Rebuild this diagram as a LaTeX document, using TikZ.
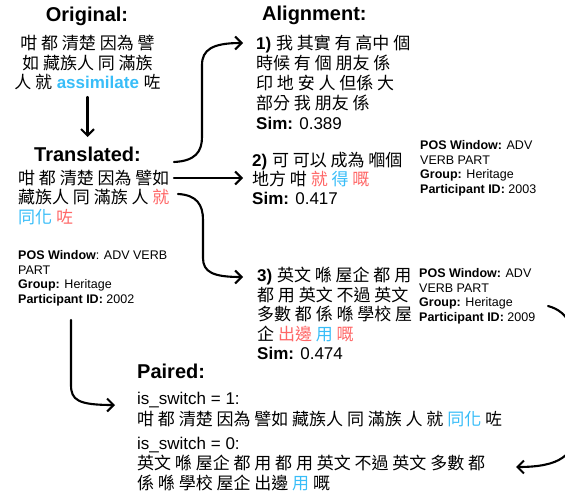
\documentclass[tikz,border=0pt]{standalone}
\usepackage{fontspec}
\setmainfont{Liberation Sans}
\newfontfamily\cjkfont{Noto Sans CJK TC}
\usetikzlibrary{arrows.meta}
\definecolor{hlred}{RGB}{255,102,102}
\definecolor{hlblue}{RGB}{56,189,248}
\newcommand{\zh}[1]{{\cjkfont #1}}
\newcommand{\rd}[1]{\textcolor{hlred}{#1}}
\newcommand{\bl}[1]{\textcolor{hlblue}{#1}}
\begin{document}
\begin{tikzpicture}[x=1pt,y=-1pt,
  hdr/.style={font=\fontsize{20}{24}\selectfont\bfseries, inner sep=0pt},
  body/.style={font=\fontsize{17}{19.5}\selectfont, inner sep=0pt, align=left, anchor=base west},
  posinfo/.style={font=\fontsize{12.5}{14.6}\selectfont, inner sep=0pt, align=left, anchor=base west},
  link/.style={line width=2.1pt, line cap=round, -{Straight Barb[length=6.5pt,width=13pt]}}]
\useasboundingbox (0,0) rectangle (565,495);
\clip (0,0) rectangle (565,495);

% left column (base anchors sit on the last line)
\node[hdr, anchor=base] (orighdr) at (87,22) {Original:};
\node[body, align=center, anchor=base] (orig) at (87.5,88.5)
  {\zh{咁 都 清楚 因為 譬}\\\zh{如 藏族人 同 滿族}\\\zh{人 就} \textbf{\bl{assimilate}} \zh{咗}};
\node[hdr, anchor=base] (transhdr) at (87.5,161) {Translated:};
\node[body] (trans) at (18,223)
  {\zh{咁 都 清楚 因為 譬如}\\\zh{藏族人 同 滿族 人 \rd{就}}\\\zh{\bl{同化} \rd{咗}}};
\node[posinfo] (pos1) at (18,303.3)
  {\textbf{POS Window}: ADV VERB\\PART\\\textbf{Group:} Heritage\\\textbf{Participant ID:} 2002};

% alignment column
\node[hdr, anchor=base west] (alhdr) at (262,21) {Alignment:};
\node[body, font=\fontsize{17}{20}\selectfont] (al1) at (256,129.5)
  {\textbf{1)} \zh{我 其實 有 高中 個}\\\zh{時候 有 個 朋友 係}\\\zh{印 地 安 人 但係 大}\\\zh{部分 我 朋友 係}\\\textbf{Sim:} 0.389};
\node[body, font=\fontsize{17}{19}\selectfont] (al2) at (252,204)
  {\textbf{2)} \zh{可 可以 成為 嗰個}\\\zh{地方 咁 \rd{就} \bl{得} \rd{嘅}}\\\textbf{Sim:} 0.417};
\node[posinfo] (pos2) at (420,193.3)
  {\textbf{POS Window:} ADV\\VERB PART\\\textbf{Group:} Heritage\\\textbf{Participant ID:} 2003};
\node[body] (al3) at (257,359.5)
  {\textbf{3)} \zh{英文 喺 屋企 都 用}\\\zh{都 用 英文 不過 英文}\\\zh{多數 都 係 喺 學校 屋}\\\zh{企 \rd{出邊} \bl{用} \rd{嘅}}\\\textbf{Sim:} 0.474};
\node[posinfo] (pos3) at (419,321.3)
  {\textbf{POS Window:} ADV\\VERB PART\\\textbf{Group:} Heritage\\\textbf{Participant ID:} 2009};

% paired
\node[hdr, anchor=base west] (pairhdr) at (137,378) {Paired:};
\node[body, font=\fontsize{17}{21.5}\selectfont] (pair1) at (137,425.5)
  {is\_switch = 1:\\\zh{咁 都 清楚 因為 譬如 藏族人 同 滿族 人 就 \bl{同化} 咗}};
\node[body, font=\fontsize{17}{20}\selectfont] (pair2) at (137,489)
  {is\_switch = 0:\\\zh{英文 喺 屋企 都 用 都 用 英文 不過 英文 多數 都}\\\zh{係 喺 學校 屋企 出邊 \bl{用} 嘅}};

% connectors
\draw[link] ([yshift=-8.5pt]orig.base) -- ([yshift=24pt]transhdr.base);
\draw[link] ([shift={(156pt,61pt)}]trans.base west)
  .. controls (195,161) and (202,152) .. (202,137) -- (202,65)
  .. controls (202,50) and (212,43) .. ([shift={(-13pt,86.5pt)}]al1.base west);
\draw[link] ([shift={(156pt,45pt)}]trans.base west) -- ([shift={(-9pt,26pt)}]al2.base west);
\draw[link] ([shift={(160pt,29pt)}]trans.base west)
  .. controls (197,195) and (203,205) .. (203,220) -- (203,258)
  .. controls (203,272) and (213,277) .. ([shift={(-14pt,82.5pt)}]al3.base west);
\draw[link] ([shift={(53pt,-16.7pt)}]pos1.base west) -- (71,385)
  .. controls (71,400) and (78,405) .. ([shift={(-22pt,20.5pt)}]pair1.base west);
\draw[link] ([shift={(129pt,15.3pt)}]pos3.base west)
  .. controls (570,312) and (575,330) .. (575,360) -- (575,430)
  .. controls (575,455) and (560,467) .. ([shift={(379pt,22pt)}]pair2.base west);
\end{tikzpicture}
\end{document}
